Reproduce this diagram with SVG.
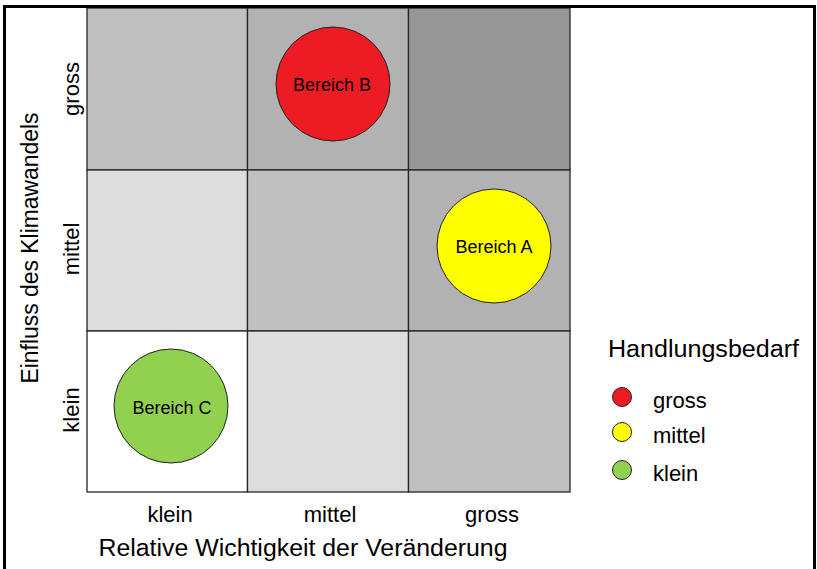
<svg xmlns="http://www.w3.org/2000/svg" width="817" height="569" viewBox="0 0 817 569">
<style>
text{font-family:"Liberation Sans",Arial,sans-serif;fill:#000}
.cell{stroke:#262626;stroke-width:1.3}
.bub{stroke:#222;stroke-width:1}
.blab{font-size:18px;text-anchor:middle}
.tick{font-size:22px;text-anchor:middle}
.title{font-size:23.5px;text-anchor:middle}
.leg{font-size:22px}
</style>
<rect x="0" y="0" width="817" height="569" fill="#fff"/>
<g id="grid">
<rect class="cell" x="87" y="8" width="160.5" height="162" fill="#c0c0c0"/>
<rect class="cell" x="247.5" y="8" width="161" height="162" fill="#b2b2b2"/>
<rect class="cell" x="408.5" y="8" width="161.5" height="162" fill="#969696"/>
<rect class="cell" x="87" y="170" width="160.5" height="161" fill="#dddddd"/>
<rect class="cell" x="247.5" y="170" width="161" height="161" fill="#c0c0c0"/>
<rect class="cell" x="408.5" y="170" width="161.5" height="161" fill="#b2b2b2"/>
<rect class="cell" x="87" y="331" width="160.5" height="161" fill="#ffffff"/>
<rect class="cell" x="247.5" y="331" width="161" height="161" fill="#dddddd"/>
<rect class="cell" x="408.5" y="331" width="161.5" height="161" fill="#c0c0c0"/>
</g>
<g id="bereich-b">
<circle class="bub" cx="333" cy="84" r="57" fill="#ed1c24"/>
<text class="blab" x="332" y="91">Bereich B</text>
</g>
<g id="bereich-a">
<circle class="bub" cx="494" cy="246" r="57" fill="#ffff00"/>
<text class="blab" x="494" y="253">Bereich A</text>
</g>
<g id="bereich-c">
<circle class="bub" cx="171" cy="406" r="57" fill="#92d050"/>
<text class="blab" x="172" y="414">Bereich C</text>
</g>
<g id="x-axis">
<text class="tick" x="170" y="522">klein</text>
<text class="tick" x="330" y="522">mittel</text>
<text class="tick" x="492" y="522">gross</text>
<text class="title" x="303" y="556" textLength="409" lengthAdjust="spacingAndGlyphs">Relative Wichtigkeit der Veränderung</text>
</g>
<g id="y-axis">
<text class="tick" transform="translate(79,89) rotate(-90)">gross</text>
<text class="tick" transform="translate(79,249) rotate(-90)">mittel</text>
<text class="tick" transform="translate(79,410) rotate(-90)">klein</text>
<text class="title" transform="translate(38,248) rotate(-90)" textLength="271" lengthAdjust="spacingAndGlyphs">Einfluss des Klimawandels</text>
</g>
<g id="legend">
<text x="608" y="357" style="font-size:23.5px" textLength="191" lengthAdjust="spacingAndGlyphs">Handlungsbedarf</text>
<circle class="bub" cx="622" cy="397" r="9.5" fill="#ed1c24"/>
<text class="leg" x="653" y="408">gross</text>
<circle class="bub" cx="622" cy="432" r="9.5" fill="#ffff00"/>
<text class="leg" x="653" y="443">mittel</text>
<circle class="bub" cx="622" cy="470" r="9.5" fill="#92d050"/>
<text class="leg" x="653" y="481">klein</text>
</g>
<g id="frame" fill="none" stroke="#000" stroke-width="3">
<path d="M4.5 569 V6.5 H814.5 V569"/>
</g>
</svg>
